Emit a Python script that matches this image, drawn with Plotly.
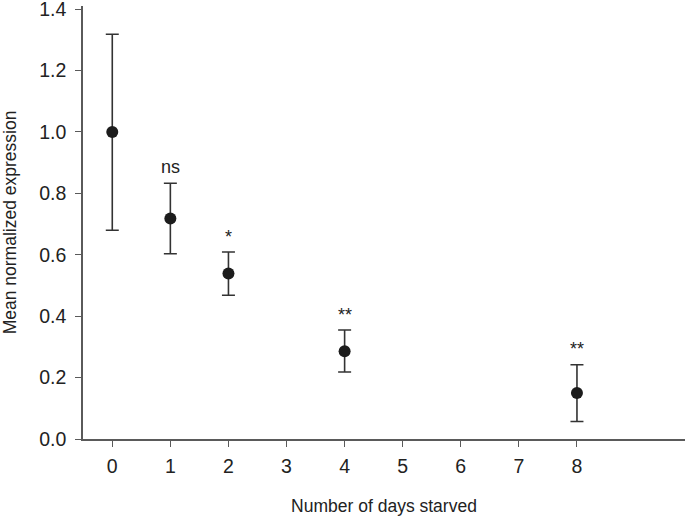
import plotly.graph_objects as go

days = [0, 1, 2, 4, 8]
mean_expr = [1.0, 0.718, 0.539, 0.286, 0.150]
err_upper = [0.318, 0.115, 0.070, 0.069, 0.092]
err_lower = [0.320, 0.115, 0.071, 0.068, 0.093]
sig_labels = ["", "ns", "*", "**", "**"]
sig_y = [None, 0.887, 0.658, 0.404, 0.294]
x_ticks = [0, 1, 2, 3, 4, 5, 6, 7, 8]
y_ticks = [0.0, 0.2, 0.4, 0.6, 0.8, 1.0, 1.2, 1.4]

FONT = "Liberation Sans, Arial, sans-serif"
AX = "#5a5a5a"

fig = go.Figure()
fig.add_trace(go.Scatter(
    x=days, y=mean_expr, mode="markers",
    marker=dict(size=12, color="#1c1c1c"),
    error_y=dict(type="data", symmetric=False, array=err_upper, arrayminus=err_lower,
                 color="#333333", thickness=1.6, width=6.5),
    showlegend=False,
))

for d, lab, yy in zip(days, sig_labels, sig_y):
    if lab:
        fig.add_annotation(x=d, y=yy, text=lab, showarrow=False,
                           font=dict(family=FONT, size=18, color="#222222"),
                           xanchor="center", yanchor="middle")

fig.update_layout(
    width=685, height=516,
    margin=dict(l=83, r=0, t=6, b=77),
    paper_bgcolor="white", plot_bgcolor="white",
    font=dict(family=FONT, size=19.5, color="#222222"),
)
fig.update_xaxes(
    range=[-0.504, 9.86], tickvals=x_ticks, ticktext=[str(v) for v in x_ticks],
    showgrid=False, zeroline=False, showline=True, linecolor=AX, linewidth=1.6,
    ticks="outside", ticklen=6, tickwidth=1.4, tickcolor=AX,
    ticklabelstandoff=3, automargin=False, ticklabeloverflow="allow",
    title=dict(text="Number of days starved", font=dict(size=17.5), standoff=24),
)
fig.update_yaxes(
    range=[0, 1.41], tickvals=y_ticks, ticktext=[f"{v:.1f}" for v in y_ticks],
    showgrid=False, zeroline=False, showline=True, linecolor=AX, linewidth=1.6,
    ticks="outside", ticklen=6, tickwidth=1.4, tickcolor=AX,
    ticklabelstandoff=5, automargin=False, ticklabeloverflow="allow",
    title=dict(text="Mean normalized expression", font=dict(size=17.5), standoff=19),
)

fig.write_html("out.html", config={"displayModeBar": False},
               post_script="document.body.style.margin='0';")
